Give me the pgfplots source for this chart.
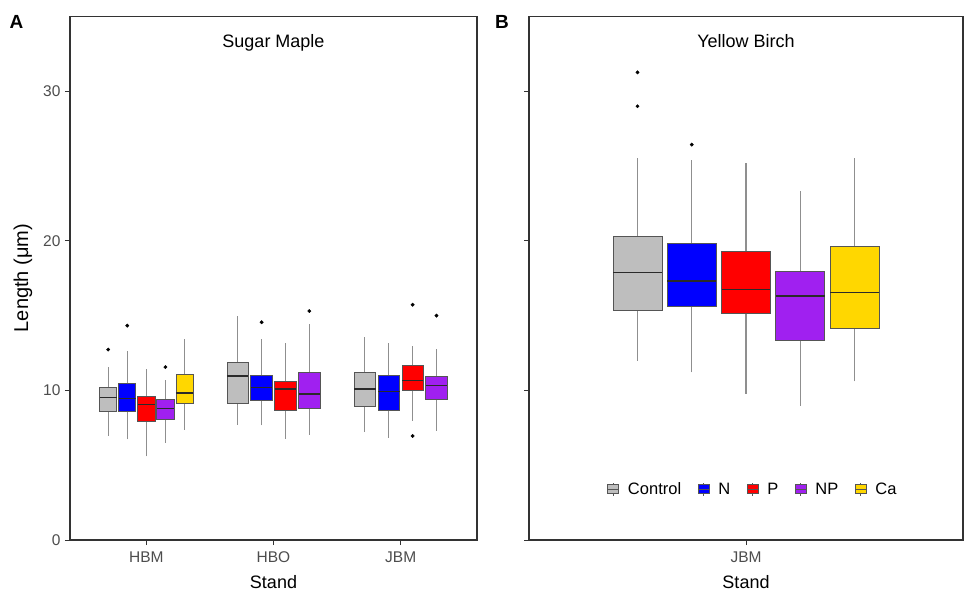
\documentclass[border=0pt]{standalone}
\usepackage{pgfplots}
\pgfplotsset{compat=1.18}
\usepackage{fontspec}
\setmainfont{Liberation Sans}
\definecolor{cgray}{HTML}{BEBEBE}
\definecolor{cblue}{HTML}{0000FF}
\definecolor{cred}{HTML}{FF0000}
\definecolor{cpurp}{HTML}{A020F0}
\definecolor{cgold}{HTML}{FFD700}
\definecolor{bord}{HTML}{555555}
\definecolor{whisk}{HTML}{8F8F8F}
\definecolor{medc}{HTML}{2A2A2A}
\definecolor{axc}{HTML}{333333}
\definecolor{tickc}{HTML}{4D4D4D}
\pgfplotsset{
  common/.style={
    scale only axis, anchor=south west,
    ymin=0, ymax=35, ytick={0,10,20,30},
    tick align=outside, tick pos=left, major tick length=5pt,
    axis line style={draw=axc, line width=1.2pt},
    major tick style={draw=axc, line width=1pt},
    /pgf/number format/assume math mode=true,
    tick label style={font=\fontsize{15.5}{18}\selectfont, text=tickc},
    xlabel={Stand},
    xlabel style={font=\fontsize{18}{20}\selectfont, text=black, at={(axis description cs:0.5,0)}, anchor=base, yshift=-48pt},
    xticklabel style={anchor=base, yshift=-17pt},
    yticklabel style={xshift=-1pt},
    unbounded coords=jump,
  },
  wh/.style={draw=whisk, line width=1.1pt, no marks},
  bx/.style={draw=bord, line width=0.7pt, no marks},
  md/.style={draw=medc, line width=1.4pt, no marks},
  ol/.style={only marks, mark=*, mark size=1.7pt, mark options={draw=black, fill=black}},
}
\newcommand{\keyimg}[1]{\addlegendimage{legend image code/.code={
  \draw[draw=bord, line width=0.6pt, fill=#1] (0pt,-4.5pt) rectangle (11pt,4.5pt);
  \draw[draw=bord, line width=0.6pt] (0pt,0pt) -- (11pt,0pt) (5.5pt,4.5pt) -- (5.5pt,6.5pt) (5.5pt,-4.5pt) -- (5.5pt,-6.5pt);}}}
\begin{document}
\begin{tikzpicture}
\path[use as bounding box] (0pt,0pt) rectangle (965pt,-592pt);
% ---------------- Panel A: Sugar Maple ----------------
\begin{axis}[common, at={(70pt,-540pt)}, width=407pt, height=523.5pt,
  xmin=0.4, xmax=3.6, xtick={1,2,3}, xticklabels={HBM,HBO,JBM}]
% whiskers (lower whisker to upper whisker)
\addplot[wh] coordinates {
 (0.7,6.96) (0.7,11.55) (0.7,nan)
 (0.85,6.73) (0.85,12.62) (0.85,nan)
 (1.0,5.6) (1.0,11.42) (1.0,nan)
 (1.15,6.51) (1.15,10.71) (1.15,nan)
 (1.3,7.36) (1.3,13.44) (1.3,nan)
 (1.71875,7.71) (1.71875,14.98) (1.71875,nan)
 (1.90625,7.67) (1.90625,13.42) (1.90625,nan)
 (2.09375,6.76) (2.09375,13.2) (2.09375,nan)
 (2.28125,7.04) (2.28125,14.47) (2.28125,nan)
 (2.71875,7.22) (2.71875,13.58) (2.71875,nan)
 (2.90625,6.84) (2.90625,13.2) (2.90625,nan)
 (3.09375,7.98) (3.09375,12.96) (3.09375,nan)
 (3.28125,7.29) (3.28125,12.78)};
% boxes (lower quartile to upper quartile)
% HBM
\addplot[bx, fill=cgray] coordinates {(0.6325,8.58) (0.7675,8.58) (0.7675,10.22) (0.6325,10.22)} -- cycle;
\addplot[bx, fill=cblue] coordinates {(0.7825,8.6) (0.9175,8.6) (0.9175,10.49) (0.7825,10.49)} -- cycle;
\addplot[bx, fill=cred] coordinates {(0.9325,7.93) (1.0675,7.93) (1.0675,9.6) (0.9325,9.6)} -- cycle;
\addplot[bx, fill=cpurp] coordinates {(1.0825,8.07) (1.2175,8.07) (1.2175,9.4) (1.0825,9.4)} -- cycle;
\addplot[bx, fill=cgold] coordinates {(1.2325,9.11) (1.3675,9.11) (1.3675,11.07) (1.2325,11.07)} -- cycle;
% HBO
\addplot[bx, fill=cgray] coordinates {(1.63425,9.16) (1.80325,9.16) (1.80325,11.89) (1.63425,11.89)} -- cycle;
\addplot[bx, fill=cblue] coordinates {(1.82175,9.36) (1.99075,9.36) (1.99075,11.0) (1.82175,11.0)} -- cycle;
\addplot[bx, fill=cred] coordinates {(2.00925,8.69) (2.17825,8.69) (2.17825,10.58) (2.00925,10.58)} -- cycle;
\addplot[bx, fill=cpurp] coordinates {(2.19675,8.82) (2.36575,8.82) (2.36575,11.2) (2.19675,11.2)} -- cycle;
% JBM
\addplot[bx, fill=cgray] coordinates {(2.63425,8.93) (2.80325,8.93) (2.80325,11.2) (2.63425,11.2)} -- cycle;
\addplot[bx, fill=cblue] coordinates {(2.82175,8.64) (2.99075,8.64) (2.99075,11.0) (2.82175,11.0)} -- cycle;
\addplot[bx, fill=cred] coordinates {(3.00925,9.98) (3.17825,9.98) (3.17825,11.71) (3.00925,11.71)} -- cycle;
\addplot[bx, fill=cpurp] coordinates {(3.19675,9.4) (3.36575,9.4) (3.36575,10.91) (3.19675,10.91)} -- cycle;
% medians
\addplot[md] coordinates {
 (0.6325,9.51) (0.7675,9.51) (0.7,nan)
 (0.7825,9.47) (0.9175,9.47) (0.85,nan)
 (0.9325,9.07) (1.0675,9.07) (1.0,nan)
 (1.0825,8.78) (1.2175,8.78) (1.15,nan)
 (1.2325,9.82) (1.3675,9.82) (1.3,nan)
 (1.63425,10.96) (1.80325,10.96) (1.7,nan)
 (1.82175,10.18) (1.99075,10.18) (1.9,nan)
 (2.00925,10.09) (2.17825,10.09) (2.1,nan)
 (2.19675,9.76) (2.36575,9.76) (2.3,nan)
 (2.63425,10.09) (2.80325,10.09) (2.7,nan)
 (2.82175,9.91) (2.99075,9.91) (2.9,nan)
 (3.00925,10.67) (3.17825,10.67) (3.1,nan)
 (3.19675,10.33) (3.36575,10.33)};
% outliers
\addplot[ol] coordinates {(0.7,12.73) (0.85,14.33) (1.15,11.56) (1.90625,14.56) (2.28125,15.31) (3.09375,15.73) (3.09375,6.96) (3.28125,15.0)};
\node[font=\fontsize{18}{20}\selectfont, anchor=base] at (rel axis cs:0.5,0.940) {Sugar Maple};
\end{axis}
% ---------------- Panel B: Yellow Birch ----------------
\begin{axis}[common, at={(529pt,-540pt)}, width=434pt, height=523.5pt,
  xmin=0.4, xmax=1.6, xtick={1}, xticklabels={JBM}, yticklabels={},
  legend style={at={(0.516,0.097)}, anchor=center, draw=none, fill=none,
    legend columns=5, font=\fontsize{16.5}{18}\selectfont,
    /tikz/every odd column/.append style={column sep=7pt},
    /tikz/every even column/.append style={column sep=14.5pt}}]
\addplot[wh, forget plot] coordinates {
 (0.7,12.0) (0.7,25.56) (0.7,nan)
 (0.85,11.2) (0.85,25.4) (0.85,nan)
 (1.0,9.78) (1.0,25.18) (1.0,nan)
 (1.15,8.98) (1.15,23.36) (1.15,nan)
 (1.3,10.6) (1.3,25.53)};
\addplot[bx, fill=cgray, forget plot] coordinates {(0.6325,15.38) (0.7675,15.38) (0.7675,20.27) (0.6325,20.27)} -- cycle;
\addplot[bx, fill=cblue, forget plot] coordinates {(0.7825,15.62) (0.9175,15.62) (0.9175,19.84) (0.7825,19.84)} -- cycle;
\addplot[bx, fill=cred, forget plot] coordinates {(0.9325,15.18) (1.0675,15.18) (1.0675,19.33) (0.9325,19.33)} -- cycle;
\addplot[bx, fill=cpurp, forget plot] coordinates {(1.0825,13.33) (1.2175,13.33) (1.2175,17.93) (1.0825,17.93)} -- cycle;
\addplot[bx, fill=cgold, forget plot] coordinates {(1.2325,14.18) (1.3675,14.18) (1.3675,19.6) (1.2325,19.6)} -- cycle;
\addplot[md, forget plot] coordinates {
 (0.6325,17.89) (0.7675,17.89) (0.7,nan)
 (0.7825,17.33) (0.9175,17.33) (0.85,nan)
 (0.9325,16.76) (1.0675,16.76) (1.0,nan)
 (1.0825,16.31) (1.2175,16.31) (1.15,nan)
 (1.2325,16.56) (1.3675,16.56)};
\addplot[ol, forget plot] coordinates {(0.7,31.27) (0.7,29.0) (0.85,26.44)};
\keyimg{cgray}\addlegendentry{Control}
\keyimg{cblue}\addlegendentry{N}
\keyimg{cred}\addlegendentry{P}
\keyimg{cpurp}\addlegendentry{NP}
\keyimg{cgold}\addlegendentry{Ca}
\node[font=\fontsize{18}{20}\selectfont, anchor=base] at (rel axis cs:0.5,0.940) {Yellow Birch};
\end{axis}
\node[rotate=90, font=\fontsize{20}{22}\selectfont] at (23pt,-278pt) {Length (μm)};
\node[font=\bfseries\fontsize{19}{20}\selectfont] at (16.5pt,-22pt) {A};
\node[font=\bfseries\fontsize{19}{20}\selectfont] at (502pt,-22pt) {B};
\end{tikzpicture}
\end{document}
